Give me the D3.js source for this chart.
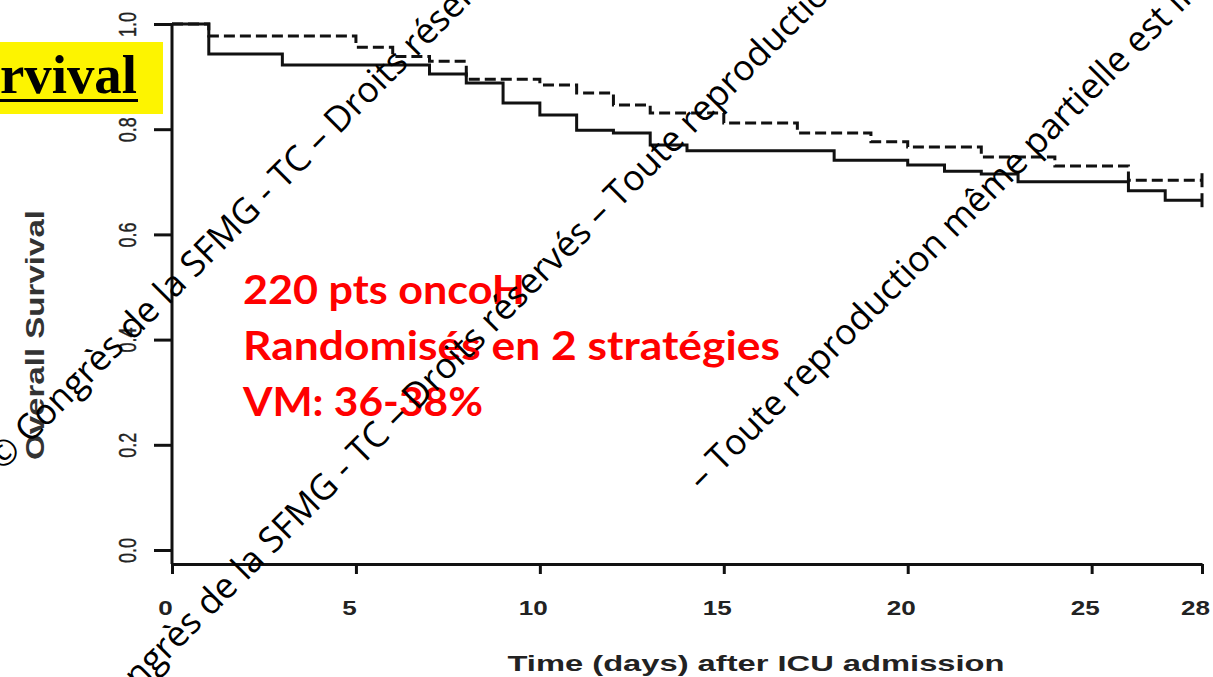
<!DOCTYPE html>
<html>
<head>
<meta charset="utf-8">
<script src="https://cdn.jsdelivr.net/npm/d3@7"></script>
<style>
  body { margin: 0; background: #fff; }
  svg { display: block; }
</style>
</head>
<body>
<svg id="chart" width="1213" height="677"></svg>
<script>
// Kaplan-Meier estimates, 28-day overall survival after ICU admission
const solidDays = [0, 1, 3, 7, 8, 9, 10, 11, 12, 13, 14, 18, 20, 21, 22, 23, 26, 27, 28];
const solidSurv = [1.0, 0.943, 0.922, 0.905, 0.888, 0.850, 0.827, 0.798, 0.793, 0.770, 0.759, 0.741, 0.732, 0.720, 0.715, 0.700, 0.683, 0.665, 0.665];

const dashedDays = [0, 1, 5, 6, 7, 8, 10, 11, 12, 13, 15, 17, 19, 20, 22, 24, 26, 28];
const dashedSurv = [1.0, 0.977, 0.956, 0.938, 0.929, 0.895, 0.884, 0.869, 0.846, 0.831, 0.812, 0.793, 0.776, 0.766, 0.747, 0.730, 0.703, 0.703];

const xTicks = [0, 5, 10, 15, 20, 25, 28];
const yTicks = [0, 0.2, 0.4, 0.6, 0.8, 1.0];
const yTickLabels = ["0.0", "0.2", "0.4", "0.6", "0.8", "1.0"];

const xTitle = "Time (days) after ICU admission";
const yTitle = "Overall Survival";
const headline = "Survival";
const notes = ["220 pts oncoH", "Randomisés en 2 stratégies", "VM: 36-38%"];
const watermark = "© Congrès de la SFMG - TC –  Droits réservés – Toute reproduction même partielle est interdite";
const watermarkTail = "– Toute reproduction même partielle est interdite";

const W = 1213, H = 677;
const svg = d3.select("#chart");
svg.append("rect").attr("width", W).attr("height", H).attr("fill", "#fff");

const x = d3.scaleLinear().domain([0, 28]).range([172, 1202]);
const y = d3.scaleLinear().domain([0, 1]).range([550, 24]);
const xAxisY = 564;
const ink = "#111";

// yellow headline strip (title runs off the left edge)
const head = svg.append("g");
head.append("rect").attr("x", 0).attr("y", 42).attr("width", 163).attr("height", 72).attr("fill", "#fdf400");
head.append("text")
  .attr("x", 137 - 198).attr("y", 93)
  .attr("font-family", "Liberation Serif, serif")
  .attr("font-weight", "bold")
  .attr("font-size", 54)
  .attr("fill", "#000")
  .attr("textLength", 198).attr("lengthAdjust", "spacingAndGlyphs")
  .text(headline);
head.append("rect").attr("x", 0).attr("y", 99).attr("width", 138).attr("height", 3).attr("fill", "#000");

// x axis
const gx = svg.append("g")
  .attr("transform", `translate(0,${xAxisY})`)
  .call(d3.axisBottom(x).tickValues(xTicks).tickSize(10).tickSizeOuter(0).tickFormat(d3.format("d")));
gx.select(".domain").attr("stroke", ink).attr("stroke-width", 3);
gx.selectAll(".tick line").attr("stroke", ink).attr("stroke-width", 3);
gx.selectAll(".tick text")
  .attr("y", 51).attr("dy", 0).attr("dx", -7)
  .attr("font-family", "Liberation Sans, Arial, sans-serif")
  .attr("font-weight", "bold")
  .attr("font-size", 21)
  .attr("fill", "#222")
  .attr("textLength", d => String(d).length * 14.5)
  .attr("lengthAdjust", "spacingAndGlyphs");

// y axis
const gy = svg.append("g")
  .attr("transform", `translate(${x(0)},0)`)
  .call(d3.axisLeft(y).tickValues(yTicks).tickSize(18).tickFormat((d, i) => yTickLabels[i]));
gy.select(".domain").remove();
gy.append("line").attr("x1", 0).attr("x2", 0).attr("y1", y(1)).attr("y2", xAxisY)
  .attr("stroke", ink).attr("stroke-width", 3);
gy.selectAll(".tick line").attr("stroke", ink).attr("stroke-width", 3);
gy.selectAll(".tick text")
  .attr("x", 0).attr("y", 0).attr("dy", 0)
  .attr("text-anchor", "middle")
  .attr("transform", "translate(-36,0) rotate(-90)")
  .attr("font-family", "Liberation Sans, Arial, sans-serif")
  .attr("font-size", 23)
  .attr("fill", "#222")
  .attr("stroke", "#222").attr("stroke-width", 0.4)
  .attr("textLength", 25)
  .attr("lengthAdjust", "spacingAndGlyphs");

// axis titles
svg.append("text")
  .attr("x", 756).attr("y", 671)
  .attr("text-anchor", "middle")
  .attr("font-family", "Liberation Sans, Arial, sans-serif")
  .attr("font-weight", "bold")
  .attr("font-size", 22)
  .attr("fill", "#222")
  .attr("textLength", 497).attr("lengthAdjust", "spacingAndGlyphs")
  .text(xTitle);

svg.append("text")
  .attr("transform", "translate(44,335) rotate(-90)")
  .attr("text-anchor", "middle")
  .attr("font-family", "Liberation Sans, Arial, sans-serif")
  .attr("font-weight", "bold")
  .attr("font-size", 25)
  .attr("fill", "#333")
  .attr("textLength", 250).attr("lengthAdjust", "spacingAndGlyphs")
  .text(yTitle);

// survival curves
const step = d3.line().x(d => x(d[0])).y(d => y(d[1])).curve(d3.curveStepAfter);
const solidPts = solidDays.map((d, i) => [d, solidSurv[i]]);
const dashedPts = dashedDays.map((d, i) => [d, dashedSurv[i]]);

svg.append("path").datum(dashedPts)
  .attr("d", step).attr("fill", "none")
  .attr("stroke", ink).attr("stroke-width", 3)
  .attr("stroke-dasharray", "11,5");
svg.append("path").datum(solidPts)
  .attr("d", step).attr("fill", "none")
  .attr("stroke", ink).attr("stroke-width", 3);

// censoring marks at end of follow-up
[solidPts, dashedPts].forEach(pts => {
  const last = pts[pts.length - 1];
  svg.append("line")
    .attr("x1", x(last[0])).attr("x2", x(last[0]))
    .attr("y1", y(last[1]) - 7).attr("y2", y(last[1]) + 7)
    .attr("stroke", ink).attr("stroke-width", 3);
});

// red annotation
const noteWidths = [282, 537, 240];
svg.append("g").selectAll("text").data(notes).join("text")
  .attr("x", 243)
  .attr("y", (d, i) => 304 + i * 56)
  .attr("font-family", "Lato, sans-serif")
  .attr("font-weight", "bold")
  .attr("font-size", 40)
  .attr("fill", "#ff0000")
  .attr("textLength", (d, i) => noteWidths[i])
  .attr("lengthAdjust", "spacingAndGlyphs")
  .text(d => d);

// copyright overlay
const wm = svg.append("g")
  .attr("font-family", "Open Sans, sans-serif")
  .attr("font-size", 35.5)
  .attr("fill", "#000")
  .style("white-space", "pre");
const wmLines = [
  { text: watermark, at: [2, 472] },
  { text: watermark, at: [80, 748] },
  { text: watermarkTail, at: [702, 492] }
];
wm.selectAll("text").data(wmLines).join("text")
  .attr("transform", d => `translate(${d.at[0]},${d.at[1]}) rotate(-45)`)
  .text(d => d.text);
</script>
</body>
</html>
